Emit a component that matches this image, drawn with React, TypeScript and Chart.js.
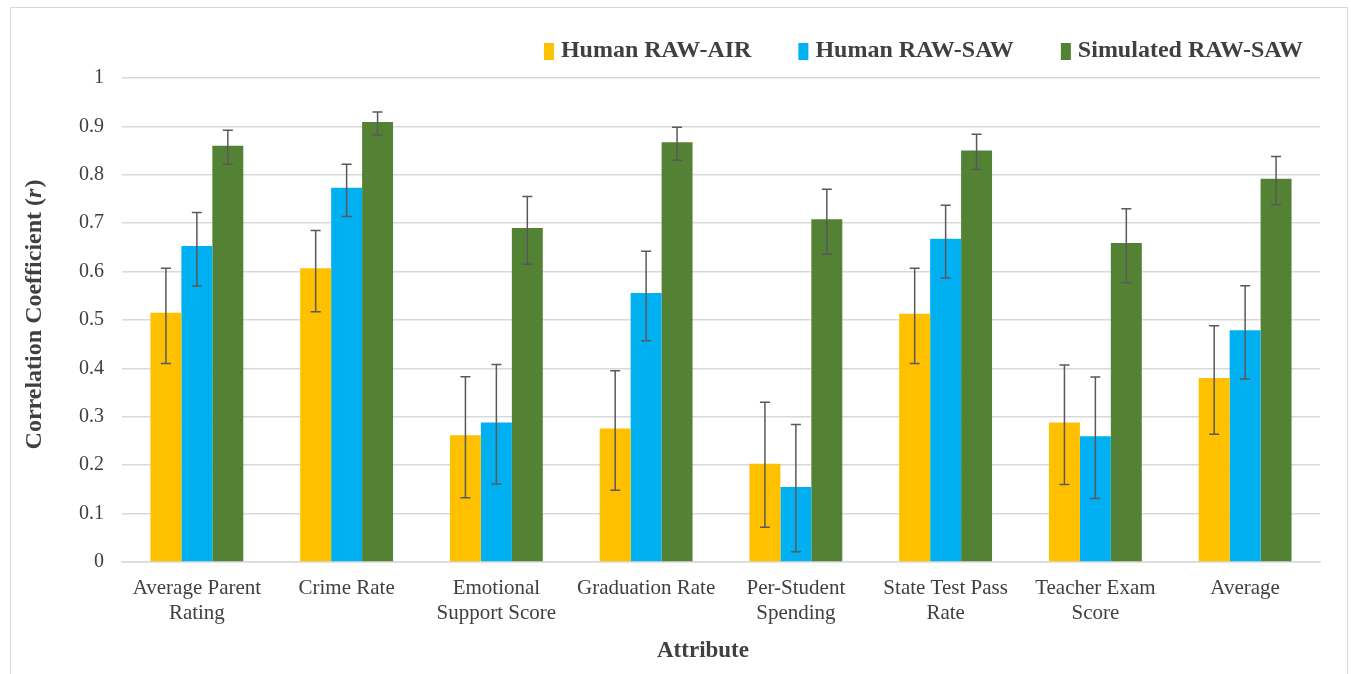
import React, { useEffect, useRef } from "react";
import { Chart, registerables } from "chart.js";

Chart.register(...registerables);

const categories: string[][] = [
  ["Average Parent", "Rating"],
  ["Crime Rate"],
  ["Emotional", "Support Score"],
  ["Graduation Rate"],
  ["Per-Student", "Spending"],
  ["State Test Pass", "Rate"],
  ["Teacher Exam", "Score"],
  ["Average"],
];

const seriesNames = ["Human RAW-AIR", "Human RAW-SAW", "Simulated RAW-SAW"];
const seriesColors = ["#FFC000", "#00B0F0", "#548235"];

const humanAir = [0.515, 0.607, 0.262, 0.276, 0.203, 0.513, 0.288, 0.38];
const humanAirLow = [0.41, 0.517, 0.133, 0.148, 0.072, 0.41, 0.16, 0.264];
const humanAirHigh = [0.607, 0.685, 0.383, 0.395, 0.33, 0.607, 0.407, 0.488];

const humanSaw = [0.653, 0.773, 0.288, 0.556, 0.155, 0.668, 0.26, 0.479];
const humanSawLow = [0.57, 0.714, 0.161, 0.457, 0.021, 0.587, 0.131, 0.378];
const humanSawHigh = [0.722, 0.822, 0.408, 0.642, 0.284, 0.737, 0.382, 0.571];

const simSaw = [0.86, 0.909, 0.69, 0.867, 0.708, 0.85, 0.659, 0.792];
const simSawLow = [0.822, 0.882, 0.615, 0.83, 0.636, 0.811, 0.577, 0.738];
const simSawHigh = [0.892, 0.93, 0.755, 0.898, 0.77, 0.884, 0.73, 0.838];

const yTicks = [0, 0.1, 0.2, 0.3, 0.4, 0.5, 0.6, 0.7, 0.8, 0.9, 1];

const FONT = "'Liberation Serif', 'Times New Roman', serif";
const TEXT = "#404040";

const errorBarsPlugin = {
  id: "errorBars",
  afterDatasetsDraw(chart: any) {
    const { ctx } = chart;
    const y = chart.scales.y;
    chart.data.datasets.forEach((ds: any, i: number) => {
      const meta = chart.getDatasetMeta(i);
      meta.data.forEach((bar: any, j: number) => {
        const lo = y.getPixelForValue(ds.errLow[j]);
        const hi = y.getPixelForValue(ds.errHigh[j]);
        const x = bar.x;
        ctx.save();
        ctx.strokeStyle = "#595959";
        ctx.lineWidth = 1.5;
        ctx.beginPath();
        ctx.moveTo(x, lo);
        ctx.lineTo(x, hi);
        ctx.moveTo(x - 5, lo);
        ctx.lineTo(x + 5, lo);
        ctx.moveTo(x - 5, hi);
        ctx.lineTo(x + 5, hi);
        ctx.stroke();
        ctx.restore();
      });
    });
  },
};

const decorPlugin = {
  id: "decor",
  afterDraw(chart: any) {
    const { ctx } = chart;
    ctx.save();
    // Legend (right aligned)
    ctx.font = `bold 24px ${FONT}`;
    ctx.textBaseline = "middle";
    const legendY = 43;
    let xEnd = 1292;
    for (let i = seriesNames.length - 1; i >= 0; i--) {
      const w = ctx.measureText(seriesNames[i]).width;
      const textX = xEnd - w;
      ctx.fillStyle = TEXT;
      ctx.textAlign = "left";
      ctx.fillText(seriesNames[i], textX, legendY);
      ctx.fillStyle = seriesColors[i];
      ctx.fillRect(textX - 17, legendY - 8, 10, 17);
      xEnd = textX - 17 - 47;
    }
    ctx.restore();
    // Y axis title with italic r
    ctx.save();
    ctx.translate(24, 307);
    ctx.rotate(-Math.PI / 2);
    ctx.textBaseline = "middle";
    const p1 = "Correlation Coefficient (";
    const p2 = "r";
    const p3 = ")";
    ctx.font = `bold 24px ${FONT}`;
    const w1 = ctx.measureText(p1).width;
    const w3 = ctx.measureText(p3).width;
    ctx.font = `italic bold 24px ${FONT}`;
    const w2 = ctx.measureText(p2).width;
    const total = w1 + w2 + w3;
    let x = -total / 2;
    ctx.fillStyle = TEXT;
    ctx.textAlign = "left";
    ctx.font = `bold 24px ${FONT}`;
    ctx.fillText(p1, x, 0);
    x += w1;
    ctx.font = `italic bold 24px ${FONT}`;
    ctx.fillText(p2, x, 0);
    x += w2 + 1;
    ctx.font = `bold 24px ${FONT}`;
    ctx.fillText(p3, x, 0);
    ctx.restore();
    // X axis title
    ctx.save();
    ctx.font = `bold 23px ${FONT}`;
    ctx.fillStyle = TEXT;
    ctx.textAlign = "center";
    ctx.textBaseline = "middle";
    ctx.fillText("Attribute", 692, 643);
    ctx.restore();
  },
};

export default function App() {
  const ref = useRef<HTMLCanvasElement | null>(null);

  useEffect(() => {
    if (!ref.current) return;
    const chart = new Chart(ref.current, {
      type: "bar",
      data: {
        labels: categories,
        datasets: [
          { label: seriesNames[0], data: humanAir, backgroundColor: seriesColors[0], errLow: humanAirLow, errHigh: humanAirHigh } as any,
          { label: seriesNames[1], data: humanSaw, backgroundColor: seriesColors[1], errLow: humanSawLow, errHigh: humanSawHigh } as any,
          { label: seriesNames[2], data: simSaw, backgroundColor: seriesColors[2], errLow: simSawLow, errHigh: simSawHigh } as any,
        ],
      },
      options: {
        animation: false,
        responsive: true,
        maintainAspectRatio: false,
        layout: { padding: { top: 70, right: 27, left: 0, bottom: 0 } },
        datasets: { bar: { categoryPercentage: 0.62, barPercentage: 1.0 } },
        plugins: { legend: { display: false }, tooltip: { enabled: false } },
        scales: {
          x: {
            grid: { display: false, drawTicks: false },
            border: { display: true, color: "#d9d9d9", width: 1.5 },
            ticks: { color: TEXT, font: { family: FONT, size: 21 }, padding: 14, maxRotation: 0, autoSkip: false },
            afterFit(scale: any) { scale.height = 112; },
          },
          y: {
            min: 0,
            max: 1,
            afterBuildTicks(scale: any) { scale.ticks = yTicks.map((v) => ({ value: v })); },
            grid: { color: "#d9d9d9", lineWidth: 1.5, drawTicks: false },
            border: { display: false },
            ticks: {
              color: TEXT,
              font: { family: FONT, size: 20 },
              padding: 18,
              callback: (v: any) => Number(Number(v).toFixed(1)).toString(),
            },
            afterFit(scale: any) { scale.width = 111; },
          },
        },
      },
      plugins: [errorBarsPlugin, decorPlugin],
    });
    return () => chart.destroy();
  }, []);

  return (
    <div
      style={{
        position: "absolute",
        left: 10,
        top: 7,
        width: 1336,
        height: 666,
        borderTop: "1.5px solid #d9d9d9",
        borderLeft: "1.5px solid #d9d9d9",
        borderRight: "1.5px solid #d9d9d9",
        background: "#fff",
      }}
    >
      <canvas ref={ref} />
    </div>
  );
}
